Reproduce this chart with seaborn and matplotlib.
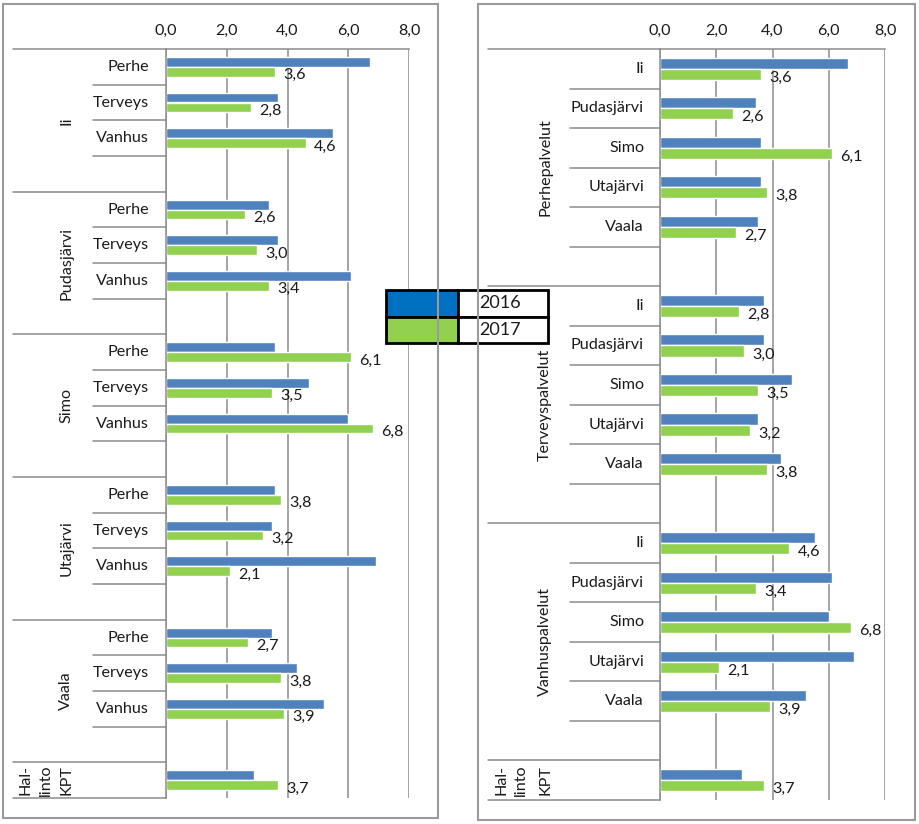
import matplotlib
matplotlib.use('Agg')
import matplotlib.pyplot as plt
import seaborn as sns
import pandas as pd
from matplotlib.patches import Rectangle

# Kunnat ja palvelut
kunnat = ["Ii", "Pudasjärvi", "Simo", "Utajärvi", "Vaala"]
palvelut_lyh = ["Perhe", "Terveys", "Vanhus"]
palvelut = ["Perhepalvelut", "Terveyspalvelut", "Vanhuspalvelut"]
vuodet = ["2016", "2017"]

# Arvot kunnittain (Ii, Pudasjärvi, Simo, Utajärvi, Vaala)
perhe_2016 = [6.7, 3.4, 3.6, 3.6, 3.5]
terveys_2016 = [3.7, 3.7, 4.7, 3.5, 4.3]
vanhus_2016 = [5.5, 6.1, 6.0, 6.9, 5.2]
perhe_2017 = [3.6, 2.6, 6.1, 3.8, 2.7]
terveys_2017 = [2.8, 3.0, 3.5, 3.2, 3.8]
vanhus_2017 = [4.6, 3.4, 6.8, 2.1, 3.9]
kpt_2016 = 2.9
kpt_2017 = 3.7

xtiks = [0, 2, 4, 6, 8]
varit = ["#4F81BD", "#92D050"]
legend_varit = ["#0070C0", "#92D050"]
harmaa = "#8C8C8C"
teksti = "#1A1A1A"

sns.set_style("white")
plt.rcParams['font.family'] = ['Lato', 'DejaVu Sans']
FS = 11.6

# pitkä taulukko
rivit = []
arvot = {"2016": [perhe_2016, terveys_2016, vanhus_2016],
         "2017": [perhe_2017, terveys_2017, vanhus_2017]}
for v in vuodet:
    for pi, p in enumerate(palvelut_lyh):
        for ki, k in enumerate(kunnat):
            rivit.append([k, p, palvelut[pi], v, arvot[v][pi][ki]])
df = pd.DataFrame(rivit, columns=["kunta", "palvelu", "palvelu_pitka", "vuosi", "arvo"])
df["vasen"] = df["kunta"] + "|" + df["palvelu"]
df["oikea"] = df["palvelu_pitka"] + "|" + df["kunta"]
kpt = pd.DataFrame({"vuosi": vuodet, "arvo": [kpt_2016, kpt_2017]})
kpt["vasen"] = "KPT"
kpt["oikea"] = "KPT"
df = pd.concat([df, kpt], ignore_index=True)

jarj_vasen = []
for k in kunnat:
    jarj_vasen += [k + "|" + p for p in palvelut_lyh] + [k + "|tyhja"]
jarj_vasen.append("KPT")
jarj_oikea = []
for p in palvelut:
    jarj_oikea += [p + "|" + k for k in kunnat] + [p + "|tyhja"]
jarj_oikea.append("KPT")


def piirra(ax, sarake, order, ryhmat, alkiot, x_alkio, x_ryhma, x_erotin, x_viiva, x_hal):
    sns.barplot(data=df, x="arvo", y=sarake, hue="vuosi", order=order, hue_order=vuodet,
                palette=varit, width=0.56, saturation=1, orient="h", errorbar=None,
                legend=False, ax=ax)
    n = len(order)
    ax.set_xlim(0, 8)
    ax.set_ylim(n - 0.5, -0.5)
    ax.xaxis.tick_top()
    ax.set_xticks(xtiks)
    ax.set_xticklabels([f"{t:.1f}".replace('.', ',') for t in xtiks])
    ax.tick_params(axis='x', length=0, pad=8, labelsize=FS, colors=teksti)
    ax.set_yticks([])
    ax.set_xlabel("")
    ax.set_ylabel("")
    ax.grid(axis='x', color=harmaa, lw=1.1)
    ax.set_axisbelow(True)
    for s in ["right", "bottom"]:
        ax.spines[s].set_visible(False)
    for s in ["top", "left"]:
        ax.spines[s].set_color(harmaa)
        ax.spines[s].set_linewidth(1.1)

    tr = ax.get_yaxis_transform()
    per = len(alkiot) + 1
    viiva = dict(transform=tr, clip_on=False, color=harmaa, lw=1.1)
    ax.plot([x_viiva, 0], [-0.5, -0.5], **viiva)
    for gi, g in enumerate(ryhmat):
        base = gi * per
        for ii, a in enumerate(alkiot):
            ax.text(x_alkio, base + ii, a, transform=tr, ha='right', va='center',
                    fontsize=FS, color=teksti)
            ax.plot([x_erotin, 0], [base + ii + 0.5] * 2, **viiva)
        ax.plot([x_viiva, 0], [base + per - 0.5] * 2, **viiva)
        ax.text(x_ryhma, base + (per - 1) / 2, g, transform=tr, rotation=90,
                ha='center', va='center', fontsize=FS, color=teksti)
    ax.plot([x_viiva, 0], [n - 0.5, n - 0.5], **viiva)
    ax.text(x_ryhma, n - 1, "KPT", transform=tr, rotation=90, ha='center',
            va='center', fontsize=FS, color=teksti)
    ax.text(x_hal, n - 1, "Hal-\nlinto", transform=tr, rotation=90, ha='center',
            va='center', fontsize=FS, color=teksti, linespacing=1.55)

    # arvot vihreiden palkkien perään
    for bar in ax.containers[1]:
        w = bar.get_width()
        ax.annotate(f"{w:.1f}".replace('.', ','), (w, bar.get_y() + bar.get_height() / 2),
                    xytext=(6, -2.5), textcoords='offset points', ha='left', va='center',
                    fontsize=FS, color=teksti)


fig = plt.figure(figsize=(9.19, 8.24), dpi=100)

# kehykset
fig.add_artist(Rectangle((3 / 919, 6 / 824), 435 / 919, 814 / 824, transform=fig.transFigure,
                         fill=False, edgecolor="#9A9A9A", lw=1.5))
fig.add_artist(Rectangle((478 / 919, 4 / 824), 437 / 919, 816 / 824, transform=fig.transFigure,
                         fill=False, edgecolor="#9A9A9A", lw=1.5))

ax1 = fig.add_axes([166 / 919, 26 / 824, 243 / 919, 749 / 824])
piirra(ax1, "vasen", jarj_vasen, kunnat, palvelut_lyh,
       x_alkio=-0.07, x_ryhma=-0.41, x_erotin=-0.30, x_viiva=-0.63, x_hal=-0.535)

ax2 = fig.add_axes([660 / 919, 24 / 824, 225 / 919, 751 / 824])
piirra(ax2, "oikea", jarj_oikea, palvelut, kunnat,
       x_alkio=-0.071, x_ryhma=-0.511, x_erotin=-0.40, x_viiva=-0.764, x_hal=-0.662)

# selite taulukkona
axl = fig.add_axes([386 / 919, 481 / 824, 162 / 919, 53 / 824])
axl.axis('off')
taulu = axl.table(cellText=[["", v] for v in vuodet], cellColours=[[c, "white"] for c in legend_varit],
                  colWidths=[0.444, 0.556], bbox=[0, 0, 1, 1], cellLoc='left')
taulu.auto_set_font_size(False)
for (r, c), cell in taulu.get_celld().items():
    cell.set_edgecolor("black")
    cell.set_linewidth(2)
    cell.PAD = 0.24
    cell.get_text().set_fontsize(13)
    cell.get_text().set_color(teksti)

fig.savefig("out.png", dpi=100)
